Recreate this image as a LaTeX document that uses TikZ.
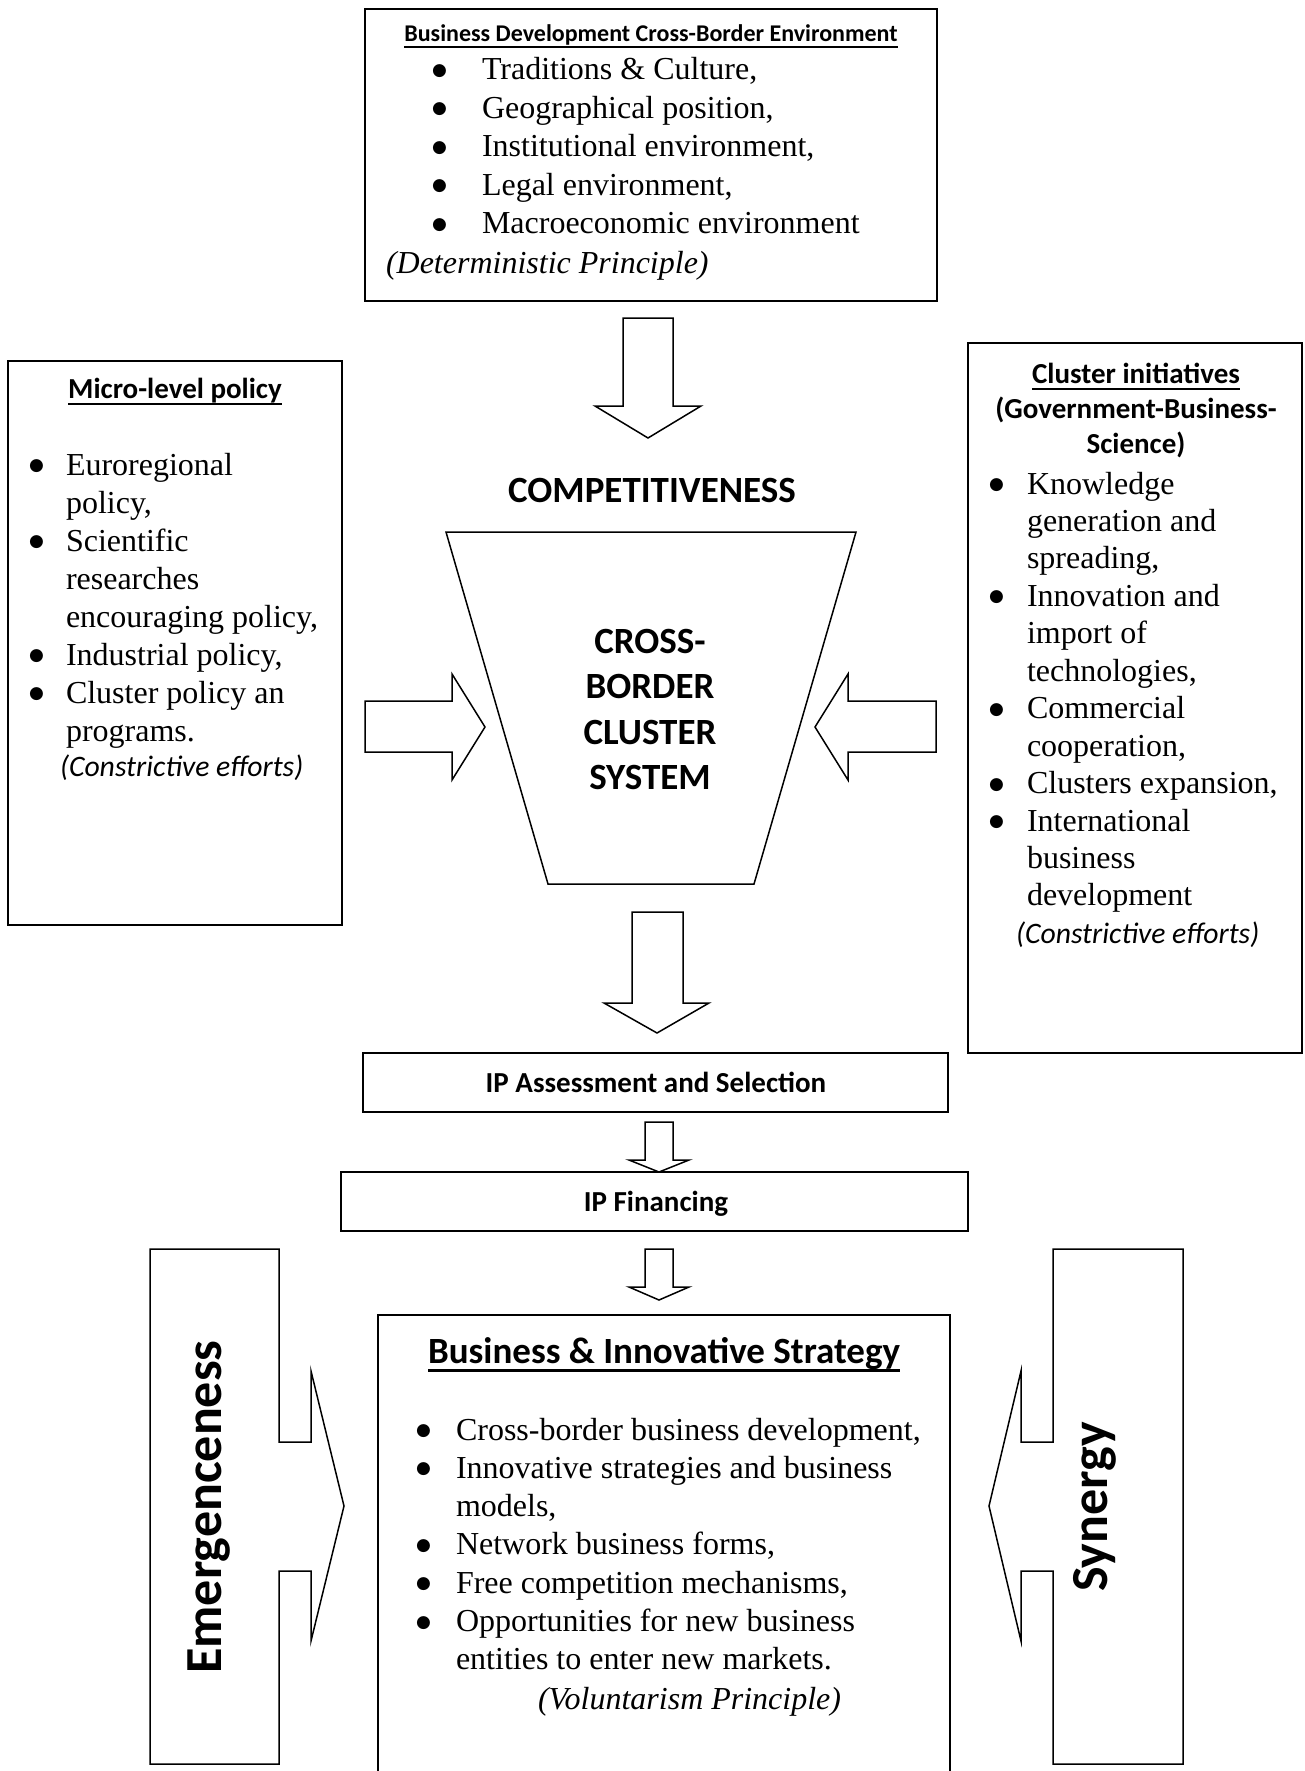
\documentclass[tikz,border=0pt]{standalone}
\usepackage{fontspec}
\usepackage{graphicx}
\setmainfont{Liberation Serif}
\newfontfamily\calib{Carlito}
\newfontfamily\dejavu{DejaVu Sans}
\newsavebox\ulbox
\newcommand{\ulin}[1]{\sbox\ulbox{#1}\rlap{\rule[-0.24em]{\wd\ulbox}{0.07em}}\usebox\ulbox}
\newcommand{\bul}{\raisebox{4.5pt}{\dejavu\fontsize{17}{17}\selectfont ●}}
\tikzset{
  box/.style={draw, line width=1.8pt, inner sep=0pt, outer sep=0pt, anchor=north west},
  boxline/.style={draw, line width=1.8pt},
  blockarrow/.style={draw, line width=1.5pt, line join=miter, fill=white},
  txt/.style={inner sep=0pt, outer sep=0pt},
  serif/.style={font=\fontsize{32}{38.5}\selectfont},
  serifit/.style={font=\fontsize{32}{38.5}\selectfont\itshape},
  heading/.style={font=\calib\bfseries\fontsize{29}{35}\selectfont},
  note/.style={font=\calib\itshape\fontsize{29.7}{35}\selectfont},
  big/.style={font=\calib\bfseries\fontsize{37}{45.5}\selectfont},
  side/.style={font=\calib\bfseries\fontsize{52}{60}\selectfont, rotate=90},
}
\begin{document}
\begin{tikzpicture}[x=1pt,y=-1pt]
\useasboundingbox (0,0) rectangle (1304,1771);

% ---------- boxes ----------
\node[box, minimum width=572pt, minimum height=292pt] (envbox) at (365,9) {};
\node[box, minimum width=334pt, minimum height=564pt] (microbox) at (8,361) {};
\node[box, minimum width=334pt, minimum height=710pt] (clusterbox) at (968,343) {};
\node[box, minimum width=585pt, minimum height=59pt] (assess) at (363,1053) {};
\node[box, minimum width=627pt, minimum height=59pt] (financ) at (341,1172) {};
\coordinate (stratBL) at (378,1772);
\coordinate (stratTL) at (378,1315);
\coordinate (stratTR) at (950,1315);
\coordinate (stratBR) at (950,1772);
\draw[boxline] (stratBL) -- (stratTL) -- (stratTR) -- (stratBR);

% ---------- top box text ----------
\node[txt, anchor=base, font=\calib\bfseries\fontsize{24}{28}\selectfont] (envtitle) at (651,42)
  {\ulin{Business Development Cross-Border Environment}};
\node[txt, anchor=base west, serif] (envlist) at (432,80) {%
  \begin{tabular}[t]{@{}p{50pt}@{}l@{}}
  \bul & Traditions \& Culture,\\
  \bul & Geographical position,\\
  \bul & Institutional environment,\\
  \bul & Legal environment,\\
  \bul & Macroeconomic environment
  \end{tabular}};
\node[txt, anchor=base west, serifit] (envnote) at (386,273) {(Deterministic Principle)};

% ---------- left box text ----------
\node[txt, anchor=base, heading] (microtitle) at (175,398) {\ulin{Micro-level policy}};
\node[txt, anchor=base west, font=\fontsize{32}{38}\selectfont] (microlist) at (29,475) {%
  \begin{tabular}[t]{@{}p{37pt}@{}l@{}}
  \bul & Euroregional\\
   & policy,\\
  \bul & Scientific\\
   & researches\\
   & encouraging policy,\\
  \bul & Industrial policy,\\
  \bul & Cluster policy an\\
   & programs.
  \end{tabular}};
\node[txt, anchor=base west, note] (micronote) at (60,776) {(Constrictive efforts)};

% ---------- right box text ----------
\node[txt, anchor=base, heading] (clustertitle) at (1136,383) {%
  \begin{tabular}[t]{@{}c@{}}
  \ulin{Cluster initiatives}\\
  (Government-Business-\\
  Science)
  \end{tabular}};
\node[txt, anchor=base west, font=\fontsize{32}{37.45}\selectfont] (clusterlist) at (989,494) {%
  \begin{tabular}[t]{@{}p{38pt}@{}l@{}}
  \bul & Knowledge\\
   & generation and\\
   & spreading,\\
  \bul & Innovation and\\
   & import of\\
   & technologies,\\
  \bul & Commercial\\
   & cooperation,\\
  \bul & Clusters expansion,\\
  \bul & International\\
   & business\\
   & development
  \end{tabular}};
\node[txt, anchor=base west, note] (clusternote) at (1016,943) {(Constrictive efforts)};

% ---------- centre ----------
\draw[blockarrow] (623,318) -- (673,318) -- (673,406) -- (701,406) -- (648,438)
  -- (595,406) -- (623,406) -- cycle;
\node[txt, anchor=base, big] (compet) at (652,502) {COMPETITIVENESS};
\draw[blockarrow] (446,532) -- (856,532) -- (754,884) -- (548,884) -- cycle;
\node[txt, anchor=base, big] (cbcs) at (650,653) {%
  \begin{tabular}[t]{@{}c@{}}
  CROSS-\\ BORDER\\ CLUSTER\\ SYSTEM
  \end{tabular}};
% side arrows
\draw[blockarrow] (365,701) -- (452,701) -- (452,674) -- (485,727) -- (452,780)
  -- (452,752) -- (365,752) -- cycle;
\draw[blockarrow] (936,701) -- (848,701) -- (848,674) -- (815,727) -- (848,780)
  -- (848,752) -- (936,752) -- cycle;
% down arrow to IP assessment
\draw[blockarrow] (632,912) -- (683,912) -- (683,1003) -- (709,1003) -- (657,1033)
  -- (604,1003) -- (632,1003) -- cycle;

% ---------- IP boxes ----------
\node[txt, anchor=base, heading] (assesstxt) at (656,1092) {IP Assessment and Selection};
\draw[blockarrow] (645,1122) -- (673,1122) -- (673,1160) -- (689,1160) -- (659,1172)
  -- (629,1160) -- (645,1160) -- cycle;
\node[txt, anchor=base, heading] (financtxt) at (656,1211) {IP Financing};
\draw[blockarrow] (645,1249) -- (673,1249) -- (673,1287) -- (689,1287) -- (659,1300)
  -- (629,1287) -- (645,1287) -- cycle;

% ---------- bottom ----------
\node[txt, anchor=base, big] (strattitle) at (664,1363) {\ulin{Business \& Innovative Strategy}};
\node[txt, anchor=base west, font=\fontsize{32}{38.3}\selectfont] (stratlist) at (416,1440) {%
  \begin{tabular}[t]{@{}p{40pt}@{}l@{}}
  \bul & Cross-border business development,\\
  \bul & Innovative strategies and business\\
   & models,\\
  \bul & Network business forms,\\
  \bul & Free competition mechanisms,\\
  \bul & Opportunities for new business\\
   & entities to enter new markets.
  \end{tabular}};
\node[txt, anchor=base west, serifit] (stratnote) at (538,1709) {(Voluntarism Principle)};

% side shapes
\draw[blockarrow] (150,1249) -- (279,1249) -- (279,1442) -- (311,1442) -- (311,1371)
  -- (344,1506) -- (311,1641) -- (311,1571) -- (279,1571) -- (279,1764) -- (150,1764) -- cycle;
\node[txt, side] (emerg) at (209,1507) {Emergenceness};
\draw[blockarrow] (1183,1249) -- (1053,1249) -- (1053,1442) -- (1021,1442) -- (1021,1371)
  -- (989,1506) -- (1021,1641) -- (1021,1571) -- (1053,1571) -- (1053,1764) -- (1183,1764) -- cycle;
\node[txt, side] (synergy) at (1095,1507) {Synergy};
\end{tikzpicture}
\end{document}
